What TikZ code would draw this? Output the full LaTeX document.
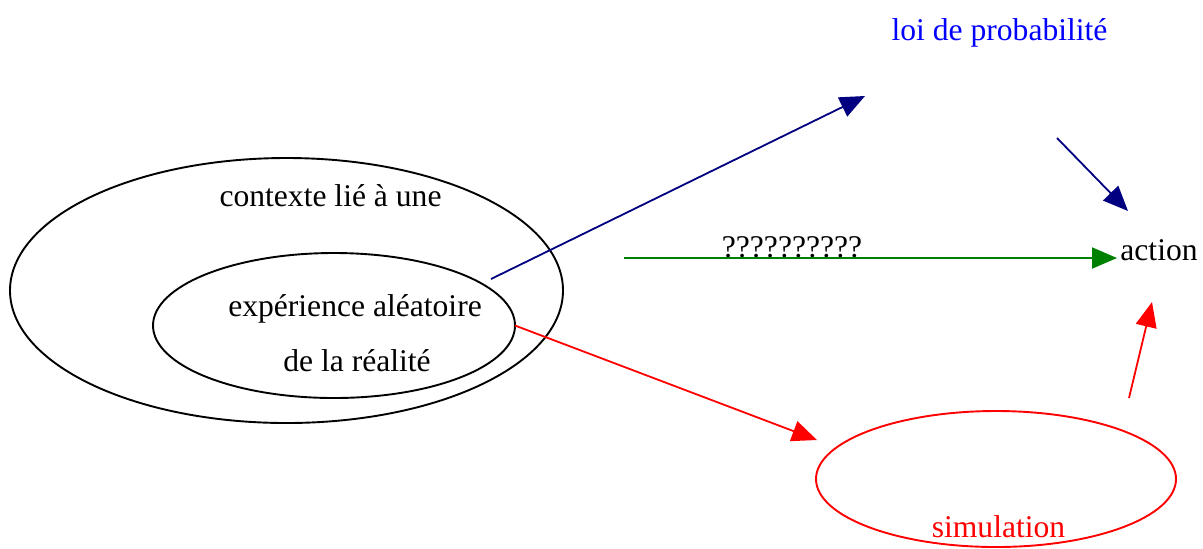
\documentclass[tikz,border=0pt]{standalone}
\usepackage{fontspec}
\setmainfont{Liberation Serif}
\usetikzlibrary{arrows.meta,shapes.geometric}

\definecolor{arrowblue}{RGB}{0,0,128}
\definecolor{arrowgreen}{RGB}{0,128,0}
\definecolor{textblue}{RGB}{0,0,255}

\begin{document}
\begin{tikzpicture}[
    x=0.5pt, y=-0.5pt,
    >={Triangle[length=12.5pt, width=10.5pt]},
    font=\fontsize{15.8pt}{18pt}\selectfont,
    every node/.style={align=center},
    blob/.style={draw, ellipse, line width=0.95pt, inner sep=0pt, outer sep=0pt},
    label/.style={anchor=base, inner sep=0pt},
    link/.style={->, line width=0.9pt}
]

\useasboundingbox (0,0) rectangle (1203,548);

% -------------------------------------------------
% LEFT: CONTEXT ELLIPSES
% -------------------------------------------------
\node[blob, minimum width=276.5pt, minimum height=132.5pt] (ctx) at (286.5,290.5) {};
\node[blob, minimum width=181pt, minimum height=72.5pt] (exp) at (334,325.5) {};

\node[label] (ctxtxt) at (330.5,206) {contexte lié à une};
\node[label] (exptxt) at (355,316) {expérience aléatoire};
\node[label] (realtxt) at (357,371) {de la réalité};

% -------------------------------------------------
% RIGHT: TARGETS
% -------------------------------------------------
\node[label, text=textblue] (loi) at (999.5,40) {loi de probabilité};
\node[label] (action) at (1159,260) {action};
\node[label] (qmarks) at (792,257) {??????????};

\node[blob, draw=red, minimum width=180pt, minimum height=68pt] (sim) at (996,479) {};
\node[label, text=red] (simtxt) at (998.5,537) {simulation};

% -------------------------------------------------
% ARROW ENDS
% -------------------------------------------------
\coordinate (loiin) at (491,279);
\coordinate (loitip) at (865,96);
\coordinate (loiout) at (1057,138);
\coordinate (acttop) at (1128,211);
\coordinate (greenin) at (624,258);
\coordinate (actleft) at (1117,258);
\coordinate (simtip) at (817,440);
\coordinate (simout) at (1129,398);
\coordinate (actbot) at (1152,302);

% -------------------------------------------------
% ARROWS
% -------------------------------------------------
\draw[link, arrowblue] (loiin) -- (loitip);
\draw[link, arrowblue] (loiout) -- (acttop);
\draw[link, arrowgreen] (greenin) -- (actleft);
\draw[link, red] (exp.east) -- (simtip);
\draw[link, red] (simout) -- (actbot);

\end{tikzpicture}
\end{document}
